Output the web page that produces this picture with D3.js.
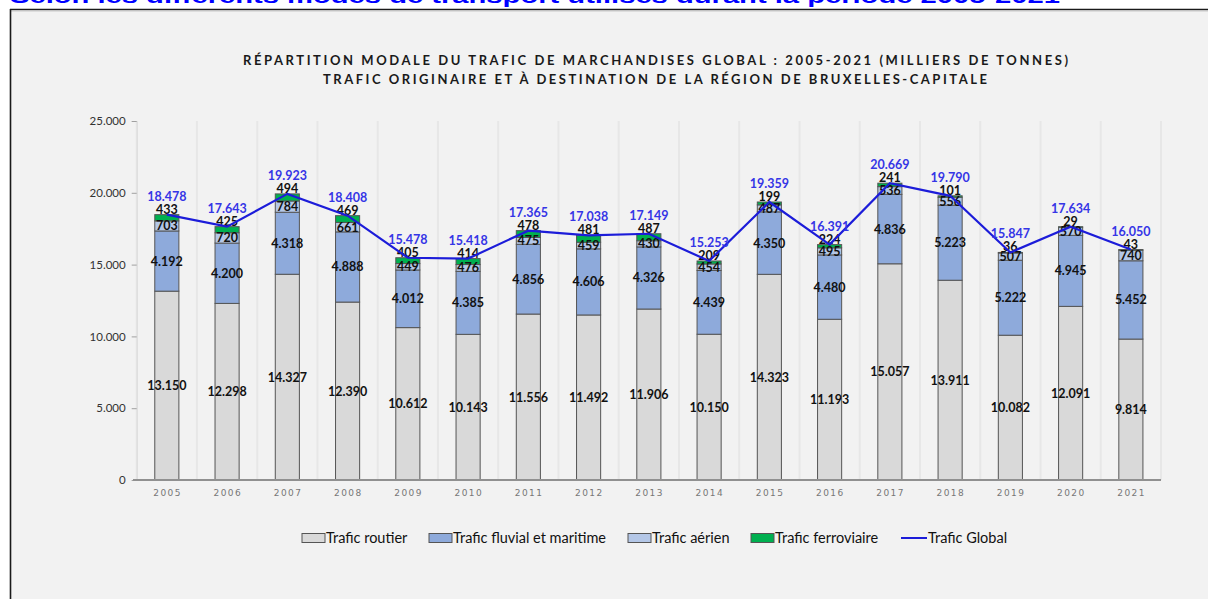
<!DOCTYPE html>
<html>
<head>
<meta charset="utf-8">
<script src="https://cdn.jsdelivr.net/npm/d3@7"></script>
<style>
  html, body { margin: 0; padding: 0; background: #ffffff; }
  svg { display: block; }
</style>
</head>
<body>
<svg id="chart" width="1208" height="599"></svg>
<script>
// Freight traffic by transport mode, Brussels-Capital Region (thousand tonnes)
const years = ["2005","2006","2007","2008","2009","2010","2011","2012","2013","2014","2015","2016","2017","2018","2019","2020","2021"];
const routier     = [13150, 12298, 14327, 12390, 10612, 10143, 11556, 11492, 11906, 10150, 14323, 11193, 15057, 13911, 10082, 12091, 9814];
const fluvial     = [4192, 4200, 4318, 4888, 4012, 4385, 4856, 4606, 4326, 4439, 4350, 4480, 4836, 5223, 5222, 4945, 5452];
const aerien      = [703, 720, 784, 661, 449, 476, 475, 459, 430, 454, 487, 495, 536, 556, 507, 570, 740];
const ferroviaire = [433, 425, 494, 469, 405, 414, 478, 481, 487, 209, 199, 224, 241, 101, 36, 29, 43];
const global      = [18478, 17643, 19923, 18408, 15478, 15418, 17365, 17038, 17149, 15253, 19359, 16391, 20669, 19790, 15847, 17634, 16050];
const yTicks = [0, 5000, 10000, 15000, 20000, 25000];

const seriesNames = ["Trafic routier", "Trafic fluvial et maritime", "Trafic aérien", "Trafic ferroviaire"];
const seriesKeys = ["routier", "fluvial", "aerien", "ferroviaire"];
const seriesColors = ["#d9d9d9", "#8eaadb", "#b4c7e7", "#00b050"];
const lineColor = "#1c1cd9";

const locale = d3.formatLocale({ decimal: ",", thousands: ".", grouping: [3], currency: ["", " €"] });
const fmt = locale.format(",d");

const svg = d3.select("#chart");
const W = 1208, H = 599;

// page heading (partly above the visible area)
svg.append("text")
  .attr("x", 10).attr("y", 2.5)
  .attr("font-family", "Liberation Sans, Arial, sans-serif")
  .attr("font-weight", "bold").attr("font-size", 21)
  .attr("fill", "#0000ff")
  .attr("textLength", 1050).attr("lengthAdjust", "spacingAndGlyphs")
  .text("Selon les différents modes de transport utilisés durant la période 2005-2021");

// chart frame
svg.append("rect").attr("x", 10).attr("y", 9).attr("width", W - 10).attr("height", H - 9).attr("fill", "#f2f2f2");
svg.append("line").attr("x1", 10).attr("x2", W).attr("y1", 9.5).attr("y2", 9.5).attr("stroke", "#1a1a1a").attr("stroke-width", 1.6);
svg.append("line").attr("x1", 10).attr("x2", W).attr("y1", 11).attr("y2", 11).attr("stroke", "#c8c8c8").attr("stroke-width", 1);
svg.append("line").attr("x1", 10.5).attr("x2", 10.5).attr("y1", 9).attr("y2", H).attr("stroke", "#1a1a1a").attr("stroke-width", 1.6);

// chart title
const titleFont = "Lato, 'Open Sans', sans-serif";
svg.append("text").attr("x", 243).attr("y", 65)
  .attr("font-family", titleFont).attr("font-weight", "bold").attr("font-size", 13)
  .attr("fill", "#1a1a1a").attr("textLength", 825).attr("lengthAdjust", "spacing")
  .text("RÉPARTITION MODALE DU TRAFIC DE MARCHANDISES GLOBAL : 2005-2021 (MILLIERS DE TONNES)");
svg.append("text").attr("x", 323).attr("y", 84)
  .attr("font-family", titleFont).attr("font-weight", "bold").attr("font-size", 13)
  .attr("fill", "#1a1a1a").attr("textLength", 664).attr("lengthAdjust", "spacing")
  .text("TRAFIC ORIGINAIRE ET À DESTINATION DE LA RÉGION DE BRUXELLES-CAPITALE");

// scales
const x0 = 136.7, x1 = 1161;
const x = d3.scaleBand().domain(years).range([x0, x1]).paddingInner(0.6).paddingOuter(0.3);
const y = d3.scaleLinear().domain([0, 25000]).range([480, 121]);

// vertical separators between years
const g = svg.append("g");
g.selectAll("line.sep").data(d3.range(years.length + 1)).join("line")
  .attr("class", "sep")
  .attr("x1", i => x0 + i * x.step()).attr("x2", i => x0 + i * x.step())
  .attr("y1", y(25000)).attr("y2", y(0))
  .attr("stroke", "#e7e7e7").attr("stroke-width", 2);

// y axis
const yAxis = svg.append("g").attr("transform", `translate(${x0},0)`)
  .call(d3.axisLeft(y).tickValues(yTicks).tickFormat(fmt).tickSize(5).tickPadding(6));
yAxis.select(".domain").attr("stroke", "#dadada");
yAxis.selectAll(".tick line").attr("stroke", "#a0a0a0");
yAxis.selectAll(".tick text").attr("font-family", "Lato, 'Open Sans', sans-serif").attr("font-size", 11.5).attr("fill", "#333");

// stacked bars
const rows = years.map((yr, i) => ({ year: yr, routier: routier[i], fluvial: fluvial[i], aerien: aerien[i], ferroviaire: ferroviaire[i] }));
const stacked = d3.stack().keys(seriesKeys)(rows);

const bars = svg.append("g");
stacked.forEach((layer, li) => {
  bars.selectAll(null).data(layer).join("rect")
    .attr("x", d => x(d.data.year))
    .attr("width", x.bandwidth())
    .attr("y", d => y(d[1]))
    .attr("height", d => y(d[0]) - y(d[1]))
    .attr("fill", seriesColors[li])
    .attr("stroke", "#555").attr("stroke-width", 1);
});

// x axis line and labels
svg.append("line").attr("x1", 133).attr("x2", x1).attr("y1", 480).attr("y2", 480)
  .attr("stroke", "#909090").attr("stroke-width", 2);
svg.append("g").selectAll("text").data(years).join("text")
  .attr("x", d => x(d) + x.bandwidth() / 2 + 0.7).attr("y", 496)
  .attr("text-anchor", "middle")
  .attr("font-family", "'DejaVu Sans', sans-serif").attr("font-size", 9)
  .attr("letter-spacing", 1.4)
  .attr("fill", "#777").text(d => d);

// value labels
const labelFont = "Lato, 'Open Sans', sans-serif";
const labels = svg.append("g").attr("font-family", labelFont).attr("font-weight", "bold")
  .attr("font-size", 12.5).attr("text-anchor", "middle").attr("fill", "#111");
// routier, fluvial, aérien: centred in their segment
[0, 1, 2].forEach(li => {
  labels.selectAll(null).data(stacked[li]).join("text")
    .attr("x", d => x(d.data.year) + x.bandwidth() / 2)
    .attr("y", d => (y(d[0]) + y(d[1])) / 2 + 4.5)
    .text(d => fmt(d[1] - d[0]));
});
// ferroviaire: just above the bar
labels.selectAll(null).data(stacked[3]).join("text")
  .attr("x", d => x(d.data.year) + x.bandwidth() / 2)
  .attr("y", d => y(d[1]) - 1)
  .text(d => fmt(d[1] - d[0]));

// total line
const line = d3.line().x((d, i) => x(years[i]) + x.bandwidth() / 2).y(d => y(d));
svg.append("path").datum(global).attr("d", line)
  .attr("fill", "none").attr("stroke", lineColor).attr("stroke-width", 2.2);

svg.append("g").selectAll("text").data(global).join("text")
  .attr("x", (d, i) => x(years[i]) + x.bandwidth() / 2)
  .attr("y", d => y(d) - 14)
  .attr("text-anchor", "middle")
  .attr("font-family", labelFont).attr("font-weight", "bold").attr("font-size", 12.5)
  .attr("fill", "#3535e6")
  .text(d => fmt(d));

// legend
const legend = svg.append("g").attr("font-family", "Lato, 'Open Sans', sans-serif").attr("font-size", 14.5).attr("fill", "#111");
const legendX = [302, 429, 628, 751];
seriesNames.forEach((name, i) => {
  legend.append("rect").attr("x", legendX[i]).attr("y", 533.5).attr("width", 23).attr("height", 9)
    .attr("fill", seriesColors[i]).attr("stroke", "#555").attr("stroke-width", 1);
  legend.append("text").attr("x", legendX[i] + 24).attr("y", 543).text(name);
});
legend.append("line").attr("x1", 901).attr("x2", 927).attr("y1", 538).attr("y2", 538)
  .attr("stroke", lineColor).attr("stroke-width", 2);
legend.append("text").attr("x", 928).attr("y", 543).text("Trafic Global");
</script>
</body>
</html>
